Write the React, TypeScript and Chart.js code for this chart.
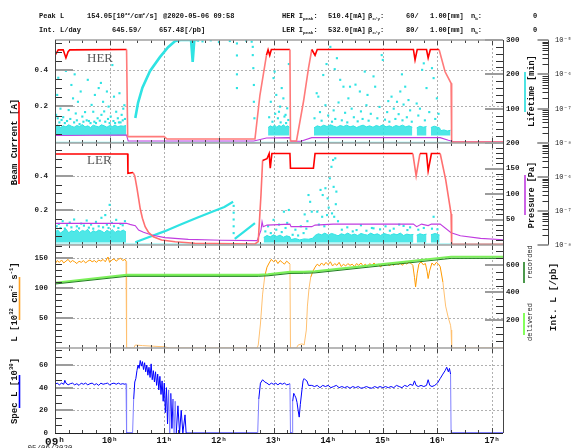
import React, { useEffect, useRef } from 'react';
import { Chart, registerables } from 'chart.js';

Chart.register(...registerables);

type Pt = [number, number | null];

// ---------------- axes / ticks ----------------
const hourTicks = [9, 10, 11, 12, 13, 14, 15, 16, 17];
const hourLabels = ['09ʰ', '10ʰ', '11ʰ', '12ʰ', '13ʰ', '14ʰ', '15ʰ', '16ʰ', '17ʰ'];
const xRange = [9, 17.2];

const herRange = [0, 0.564];
const lerRange = [0, 0.591];
const lumRange = [0, 172];
const specRange = [0, 75];
const lifeRange = [0, 300];
const presRange = [0, 200];
const intRange = [0, 742];
const logRange = [1e-8, 1e-5];

const currentTicks = [0.2, 0.4];
const lumTicks = [50, 100, 150];
const specTicks = [0, 20, 40, 60];
const lifeTicks = [100, 200, 300];
const presTicks = [50, 100, 150, 200];
const intTicks = [200, 400, 600];
const logTicksHER = [1e-5, 1e-6, 1e-7, 1e-8];
const logLabelsHER = ['10⁻⁵', '10⁻⁶', '10⁻⁷', '10⁻⁸'];
const logTicksLER = [1e-6, 1e-7, 1e-8];
const logLabelsLER = ['10⁻⁶', '10⁻⁷', '10⁻⁸'];

const currentMinor = [0.05, 0.1, 0.15, 0.25, 0.3, 0.35, 0.45, 0.5, 0.55];
const lumMinor = [10, 20, 30, 40, 60, 70, 80, 90, 110, 120, 130, 140, 160, 170];
const specMinor = [6.67, 13.33, 26.67, 33.33, 46.67, 53.33, 66.67, 73.33];
const lifeMinor = [20, 40, 60, 80, 120, 140, 160, 180, 220, 240, 260, 280];
const presMinor = [10, 20, 30, 40, 60, 70, 80, 90, 110, 120, 130, 140, 160, 170, 180, 190];
const intMinor = [50, 100, 150, 250, 300, 350, 450, 500, 550, 650, 700];

// ---------------- header text ----------------
const peakLumi = '154.05';
const peakTime = '@2020-05-06 09:58';
const intLumiRecorded = '645.59';
const intLumiDelivered = '657.48';
const herIpeak = '510.4[mA]';
const lerIpeak = '532.0[mA]';
const herBetaX = '60/';
const lerBetaX = '80/';
const betaY = '1.00[mm]';
const nBunches = ['0', '0'];
const dateLabel = '05/06/2020';

// ---------------- data (hour, value) ----------------
const herCurrent: Pt[] = [
  [9.0, 0.48], [9.06, 0.51], [9.15, 0.51], [9.2, 0.466], [9.24, 0.5], [9.27, 0.51], [10.31, 0.512],
  [10.33, 0.035], [11.0, 0.035], [11.05, 0.022], [12.66, 0.022], [12.75, 0.26], [12.87, 0.48], [12.9, 0.51],
  [12.93, 0.48], [12.96, 0.512], [13.3, 0.512], [13.31, 0.011], [13.42, 0.011], [13.55, 0.23], [13.64, 0.41],
  [13.7, 0.512], [13.76, 0.48], [13.8, 0.512], [15.56, 0.512], [15.59, 0.455], [15.63, 0.512], [15.8, 0.512],
  [15.83, 0.466], [15.87, 0.512], [16.03, 0.512], [16.14, 0.39], [16.25, 0.327], [16.26, 0.005], [17.2, 0.005],
];

const lerCurrent: Pt[] = [
  [9.0, 0.527], [10.33, 0.527], [10.335, 0.415], [10.43, 0.42], [10.46, 0.4], [10.5, 0.33], [10.53, 0.27],
  [10.56, 0.21], [10.6, 0.155], [10.65, 0.106], [10.71, 0.074], [10.8, 0.048], [10.95, 0.029], [11.2, 0.019],
  [11.56, 0.01], [12.66, 0.006], [12.72, 0.02], [12.77, 0.29], [12.8, 0.49], [12.88, 0.5], [12.92, 0.53],
  [12.94, 0.445], [12.97, 0.53], [13.3, 0.53], [13.31, 0.445], [13.73, 0.445], [13.76, 0.53], [15.55, 0.53],
  [15.61, 0.4], [15.68, 0.53], [15.8, 0.53], [15.83, 0.43], [15.89, 0.53], [16.05, 0.53], [16.15, 0.38],
  [16.25, 0.18], [16.26, 0.004], [17.2, 0.004],
];

const herPressure: Pt[] = [
  [9.0, 1.65e-8], [10.31, 1.71e-8], [10.34, 1.14e-8], [12.64, 1.14e-8], [12.87, 1.4e-8], [13.3, 1.43e-8],
  [13.32, 1.12e-8], [13.5, 1.12e-8], [13.7, 1.43e-8], [16.05, 1.43e-8], [16.2, 1.2e-8], [16.3, 1.09e-8],
  [17.2, 1.09e-8],
];

const lerPressure: Pt[] = [
  [9.0, 42.5], [10.31, 42.5], [10.37, 40.5], [10.47, 38], [10.53, 29.4], [10.62, 24.8], [10.77, 19.6],
  [11.01, 14.4], [11.44, 11.1], [12.05, 9.2], [12.7, 8.5], [12.77, 29], [12.79, 45.8], [12.81, 36],
  [12.88, 39], [13.3, 41], [13.32, 36], [13.7, 36], [13.76, 39], [14.09, 41], [15.56, 41], [15.62, 36],
  [15.71, 41], [15.83, 38], [15.89, 41], [16.05, 41], [16.25, 24], [16.42, 18], [16.79, 13], [17.2, 10.2],
];

const intDelivered: Pt[] = [
  [9.0, 470], [10.31, 527], [12.72, 527], [12.9, 531], [13.3, 548], [13.55, 549], [13.76, 552],
  [16.25, 657.5], [17.2, 657.5],
];
const intRecorded: Pt[] = [
  [9.0, 461], [10.31, 516], [12.72, 516], [12.9, 520], [13.3, 537], [13.55, 538], [13.76, 541],
  [16.25, 645.6], [17.2, 645.6],
];

const lumi: Pt[] = [
  [9.0, 140], [9.04, 146], [9.08, 143], [9.12, 147], [9.16, 142], [9.2, 145], [9.24, 148], [9.28, 143],
  [9.32, 146], [9.36, 144], [9.4, 141], [9.44, 145], [9.48, 143], [9.52, 146], [9.56, 142], [9.6, 145],
  [9.64, 147], [9.68, 144], [9.72, 146], [9.76, 143], [9.8, 147], [9.84, 145], [9.88, 148], [9.92, 144],
  [9.97, 152], [10.0, 143], [10.04, 147], [10.08, 149], [10.12, 145], [10.16, 148], [10.2, 150], [10.24, 146],
  [10.28, 148], [10.3, 145], [10.31, 0], [10.44, 0], [10.47, 5], [10.6, 4], [10.8, 3], [11.0, 2], [11.1, 0],
  [12.7, 0], [12.72, 5], [12.76, 40], [12.8, 90], [12.84, 120], [12.88, 135], [12.92, 142], [12.96, 148],
  [13.0, 144], [13.04, 147], [13.08, 141], [13.12, 146], [13.16, 143], [13.2, 140], [13.24, 145], [13.28, 142],
  [13.3, 140], [13.31, 0], [13.42, 0], [13.45, 5], [13.52, 7], [13.56, 5], [13.6, 30], [13.62, 70],
  [13.65, 100], [13.68, 118], [13.72, 128], [13.76, 135], [13.8, 140], [13.84, 137], [13.88, 142], [13.92, 138],
  [13.96, 143], [14.0, 139], [14.04, 144], [14.08, 137], [14.12, 141], [14.16, 138], [14.2, 143], [14.24, 136],
  [14.28, 140], [14.32, 137], [14.36, 141], [14.4, 138], [14.44, 140], [14.48, 136], [14.52, 141], [14.56, 138],
  [14.6, 142], [14.64, 137], [14.68, 140], [14.72, 136], [14.76, 141], [14.8, 138], [14.84, 142], [14.88, 137],
  [14.92, 140], [14.96, 135], [15.0, 141], [15.04, 138], [15.08, 142], [15.12, 137], [15.16, 141], [15.2, 138],
  [15.24, 143], [15.28, 139], [15.32, 142], [15.36, 138], [15.4, 143], [15.44, 140], [15.48, 144], [15.52, 141],
  [15.55, 138], [15.58, 118], [15.6, 102], [15.63, 125], [15.66, 140], [15.7, 144], [15.74, 139], [15.78, 141],
  [15.81, 128], [15.83, 116], [15.86, 130], [15.9, 142], [15.94, 138], [15.98, 143], [16.02, 140], [16.05, 136],
  [16.1, 110], [16.15, 70], [16.2, 50], [16.24, 38], [16.25, 30], [16.26, 0], [17.2, 0],
];

const specLumi: Pt[] = [
  [9.0, 43], [9.04, 44], [9.08, 42.5], [9.12, 44], [9.16, 43], [9.18, 46.5], [9.2, 44], [9.24, 42.5],
  [9.28, 43.5], [9.32, 44], [9.36, 42.5], [9.4, 43.5], [9.44, 42], [9.48, 44], [9.52, 43], [9.56, 44],
  [9.6, 42.5], [9.64, 43.5], [9.68, 44], [9.72, 42.5], [9.76, 43.5], [9.8, 42], [9.84, 44], [9.88, 43],
  [9.92, 43.5], [9.96, 44], [10.0, 42.5], [10.04, 43.5], [10.08, 44], [10.12, 43], [10.16, 44], [10.2, 43],
  [10.24, 43.5], [10.28, 43], [10.3, 43.5], [10.31, 0], [10.42, 0],
  [10.44, 30], [10.46, 45], [10.48, 48], [10.5, 55], [10.52, 60], [10.54, 57], [10.56, 64], [10.58, 59],
  [10.6, 63], [10.62, 56], [10.64, 62], [10.66, 54], [10.68, 60], [10.7, 51], [10.72, 58], [10.74, 49],
  [10.76, 61], [10.78, 47], [10.8, 55], [10.82, 45], [10.84, 54], [10.86, 42], [10.88, 52], [10.9, 38],
  [10.92, 50], [10.94, 34], [10.96, 46], [10.98, 28], [11.0, 44], [11.02, 18], [11.04, 40], [11.06, 8],
  [11.08, 38], [11.1, 0], [11.12, 35], [11.14, 4], [11.16, 30], [11.18, 0], [11.2, 28], [11.22, 0],
  [11.25, 24], [11.28, 0], [11.31, 20], [11.34, 0], [11.38, 16], [11.4, 0], [12.71, 0],
  [12.73, 30], [12.76, 44], [12.8, 47], [12.84, 45], [12.88, 44], [12.92, 42.5], [12.96, 44], [13.0, 43],
  [13.04, 44], [13.08, 42.5], [13.12, 44], [13.16, 43], [13.2, 44], [13.24, 42.5], [13.28, 43], [13.3, 43.5],
  [13.31, 0], [13.34, 0], [13.35, 28], [13.37, 35], [13.39, 33], [13.41, 31], [13.43, 27], [13.45, 20],
  [13.47, 14], [13.49, 25], [13.52, 38], [13.54, 46], [13.56, 48], [13.58, 47], [13.61, 46], [13.64, 42],
  [13.7, 42], [13.75, 41], [13.8, 42], [13.85, 40], [13.9, 42], [13.95, 41], [14.0, 42], [14.05, 40],
  [14.1, 41], [14.15, 42], [14.2, 40], [14.25, 41], [14.3, 40], [14.35, 41], [14.4, 39.5], [14.45, 41],
  [14.5, 40], [14.55, 41], [14.6, 39.5], [14.65, 40], [14.7, 41], [14.75, 40], [14.8, 39.5], [14.85, 41],
  [14.9, 40], [14.95, 41], [15.0, 40], [15.05, 41], [15.1, 40], [15.15, 41], [15.2, 40], [15.25, 42],
  [15.3, 41], [15.35, 40], [15.4, 42], [15.45, 41], [15.5, 43], [15.55, 42], [15.58, 46], [15.61, 42],
  [15.65, 41], [15.7, 42], [15.75, 41], [15.8, 42], [15.83, 47], [15.86, 42], [15.9, 41], [15.95, 42],
  [16.0, 44], [16.05, 48], [16.1, 52], [16.14, 55], [16.17, 58], [16.2, 54], [16.22, 57], [16.24, 52],
  [16.25, 0], [17.2, 0],
];

// HER lifetime [min]
const herLifeRise: Pt[] = [
  [10.47, 73], [10.52, 117], [10.6, 161], [10.74, 210], [10.92, 250], [11.07, 279], [11.2, 297], [11.3, 300],
  [11.49, 300], [11.52, 236], [11.55, 300], [11.6, 300],
];
const herLifeBand: Pt[] = [
  [9.0, 48], [9.05, 52], [9.1, 45], [9.15, 50], [9.2, 47], [9.25, 53], [9.3, 49], [9.35, 46], [9.4, 51],
  [9.45, 48], [9.5, 54], [9.55, 47], [9.6, 50], [9.65, 45], [9.7, 52], [9.75, 49], [9.8, 47], [9.85, 53],
  [9.9, 50], [9.95, 46], [10.0, 51], [10.05, 48], [10.1, 52], [10.15, 47], [10.2, 50], [10.25, 49], [10.3, 51],
  [10.31, null],
  [12.9, 45], [12.94, 50], [12.98, 47], [13.02, 52], [13.06, 46], [13.1, 51], [13.14, 48], [13.18, 53],
  [13.22, 47], [13.26, 50], [13.29, 46], [13.31, null],
  [13.74, 44], [13.8, 50], [13.86, 47], [13.92, 52], [13.98, 48], [14.04, 53], [14.1, 49], [14.16, 46],
  [14.22, 51], [14.28, 48], [14.34, 52], [14.4, 47], [14.46, 50], [14.52, 45], [14.58, 49], [14.64, 52],
  [14.7, 47], [14.76, 50], [14.82, 46], [14.88, 51], [14.94, 48], [15.0, 53], [15.06, 47], [15.12, 50],
  [15.18, 46], [15.24, 51], [15.3, 48], [15.36, 52], [15.42, 47], [15.48, 50], [15.54, 46], [15.57, null],
  [15.62, 44], [15.68, 49], [15.74, 46], [15.8, 48], [15.83, null],
  [15.88, 45], [15.94, 49], [16.0, 46], [16.04, 44], [16.06, 36], [16.12, 38], [16.18, 35], [16.24, 37],
  [16.26, null],
];
const herLifeBase: Pt[] = [[9.0, 2], [17.2, 2]];
const herLifePts: Pt[] = [
  [9.02, 82], [9.04, 140], [9.05, 72], [9.06, 190], [9.08, 60], [9.1, 100], [9.12, 67], [9.15, 75], [9.18, 58],
  [9.2, 210], [9.22, 64], [9.25, 96], [9.28, 70], [9.3, 169], [9.33, 130], [9.35, 60], [9.36, 200], [9.38, 86],
  [9.4, 66], [9.42, 120], [9.45, 55], [9.47, 150], [9.5, 77], [9.52, 62], [9.55, 90], [9.58, 66], [9.6, 184],
  [9.62, 64], [9.65, 58], [9.67, 111], [9.7, 91], [9.72, 62], [9.73, 140], [9.75, 58], [9.78, 72], [9.8, 160],
  [9.82, 65], [9.84, 175], [9.85, 82], [9.88, 120], [9.9, 92], [9.92, 62], [9.95, 150], [9.97, 70], [9.98, 106],
  [10.0, 58], [10.02, 77], [10.05, 227], [10.07, 64], [10.08, 135], [10.1, 58], [10.12, 91], [10.15, 72],
  [10.17, 60], [10.18, 145], [10.2, 60], [10.22, 82], [10.24, 66], [10.25, 100], [10.27, 110], [10.28, 70],
  [11.62, 298], [11.7, 296], [11.85, 299], [12.0, 294], [12.2, 297], [12.33, 290], [12.33, 255], [12.33, 200],
  [12.33, 160], [12.5, 298], [12.6, 295], [12.62, 280], [12.62, 256], [12.63, 218], [12.64, 169], [12.64, 120],
  [12.65, 72],
  [12.92, 75], [12.95, 120], [12.98, 62], [13.0, 189], [13.02, 208], [13.03, 85], [13.05, 140], [13.08, 72],
  [13.1, 91], [13.12, 106], [13.13, 60], [13.15, 160], [13.18, 130], [13.2, 77], [13.22, 82], [13.23, 58],
  [13.25, 101], [13.27, 67], [13.28, 230],
  [13.75, 72], [13.79, 145], [13.82, 135], [13.85, 90], [13.88, 65], [13.91, 198], [13.95, 110], [13.97, 230],
  [14.0, 80], [14.04, 280], [14.07, 62], [14.1, 95], [14.12, 215], [14.13, 70], [14.16, 247], [14.19, 118],
  [14.22, 184], [14.25, 66], [14.28, 164], [14.31, 88], [14.35, 60], [14.37, 130], [14.4, 164], [14.43, 100],
  [14.47, 75], [14.5, 170], [14.54, 63], [14.58, 150], [14.6, 92], [14.63, 70], [14.67, 208], [14.7, 110],
  [14.72, 140], [14.74, 65], [14.78, 85], [14.83, 194], [14.86, 164], [14.9, 72], [14.94, 105], [14.98, 256],
  [15.0, 242], [15.04, 68], [15.08, 90], [15.1, 122], [15.12, 62], [15.16, 135], [15.2, 100], [15.23, 70],
  [15.26, 120], [15.29, 84], [15.32, 150], [15.35, 200], [15.36, 66], [15.38, 112], [15.41, 164], [15.44, 75],
  [15.47, 125], [15.5, 95], [15.53, 62], [15.62, 115], [15.65, 80], [15.68, 100], [15.72, 213], [15.75, 232],
  [15.77, 66], [15.8, 160], [15.85, 90], [15.9, 218], [15.93, 189], [15.96, 70], [15.99, 130], [16.02, 85],
];

// LER lifetime [min]
const lerLifeRise: Pt[] = [
  [10.47, 8], [10.7, 22], [11.0, 40], [11.3, 60], [11.6, 80], [11.9, 99], [12.1, 112], [12.26, 127],
  [12.27, null], [12.29, 18], [12.45, 38], [12.66, 64],
];
const lerLifeBand: Pt[] = [
  [9.0, 38], [9.05, 44], [9.1, 35], [9.15, 41], [9.2, 47], [9.25, 36], [9.3, 42], [9.35, 39], [9.4, 45],
  [9.45, 37], [9.5, 43], [9.55, 40], [9.6, 46], [9.65, 35], [9.7, 42], [9.75, 38], [9.8, 44], [9.85, 41],
  [9.9, 36], [9.95, 43], [10.0, 39], [10.05, 45], [10.1, 37], [10.15, 42], [10.2, 40], [10.25, 44], [10.3, 38],
  [10.31, null],
  [12.82, 22], [12.88, 28], [12.94, 24], [13.0, 30], [13.06, 25], [13.12, 29], [13.18, 23], [13.24, 27],
  [13.3, 24], [13.32, 16], [13.4, 19], [13.48, 15], [13.56, 18], [13.64, 17], [13.72, 20],
  [13.76, 28], [13.82, 33], [13.88, 30], [13.94, 35], [14.0, 29], [14.06, 34], [14.12, 31], [14.18, 27],
  [14.24, 33], [14.3, 30], [14.36, 35], [14.42, 29], [14.48, 32], [14.54, 28], [14.6, 34], [14.66, 31],
  [14.72, 29], [14.78, 35], [14.84, 30], [14.9, 33], [14.96, 28], [15.02, 34], [15.08, 31], [15.14, 29],
  [15.2, 33], [15.26, 30], [15.32, 35], [15.38, 28], [15.44, 32], [15.5, 30], [15.56, 31], [15.58, null],
  [15.62, 29], [15.68, 33], [15.74, 30], [15.8, 32], [15.83, null],
  [15.88, 30], [15.96, 34], [16.04, 29], [16.06, null],
];
const lerLifeBase: Pt[] = [[9.0, 3], [17.2, 3]];
const lerLifePts: Pt[] = [
  [9.03, 55], [9.07, 62], [9.1, 50], [9.14, 70], [9.18, 48], [9.22, 58], [9.27, 66], [9.3, 52], [9.35, 75],
  [9.4, 55], [9.44, 49], [9.48, 63], [9.53, 57], [9.58, 72], [9.62, 51], [9.66, 60], [9.7, 48], [9.75, 68],
  [9.8, 55], [9.85, 80], [9.88, 52], [9.92, 88], [9.95, 60], [9.98, 50], [10.0, 118], [10.04, 65], [10.08, 55],
  [10.12, 74], [10.16, 50], [10.2, 62], [10.24, 58], [10.28, 70],
  [12.27, 115], [12.27, 95], [12.27, 75], [12.27, 55], [12.27, 35],
  [12.85, 40], [12.9, 55], [12.95, 35], [13.0, 74], [13.05, 45], [13.1, 60], [13.15, 38], [13.19, 98],
  [13.22, 50], [13.25, 65], [13.28, 103],
  [13.35, 30], [13.4, 45], [13.45, 28], [13.5, 55], [13.55, 35], [13.57, 90], [13.6, 48], [13.62, 70],
  [13.64, 147], [13.67, 127], [13.7, 98],
  [13.8, 98], [13.83, 60], [13.86, 162], [13.89, 83], [13.9, 147], [13.93, 55], [13.95, 167], [13.98, 88],
  [13.99, 137], [14.01, 110], [14.03, 196], [14.06, 230], [14.07, 93], [14.09, 250], [14.1, 171], [14.11, 83],
  [14.13, 255], [14.14, 120], [14.15, 157], [14.18, 70],
  [14.25, 45], [14.35, 52], [14.45, 40], [14.52, 44], [14.6, 58], [14.7, 42], [14.8, 50], [14.83, 49],
  [14.95, 46], [15.05, 55], [15.13, 42], [15.2, 48], [15.3, 60], [15.38, 56], [15.45, 44], [15.5, 52],
  [15.65, 45], [15.75, 50], [15.9, 48], [15.93, 83], [16.0, 46],
];

// ---------------- helpers ----------------
const MONO = '"Liberation Mono", "DejaVu Sans Mono", monospace';
const xy = (a: Pt[]) => a.map(([x, y]) => ({ x, y }));

type Seg = { t: string; k?: 'sup' | 'sub' };

function richWidth(ctx: CanvasRenderingContext2D, segs: Seg[], size: number, weight: string) {
  let w = 0;
  for (const s of segs) {
    ctx.font = `${weight} ${s.k ? size * 0.62 : size}px ${MONO}`;
    w += ctx.measureText(s.t).width;
  }
  return w;
}

function drawRich(ctx: CanvasRenderingContext2D, x: number, y: number, segs: Seg[], o: any) {
  const size = o.size;
  const weight = o.weight || 'normal';
  ctx.save();
  ctx.translate(x, y);
  if (o.rot) ctx.rotate(o.rot);
  ctx.fillStyle = o.color || '#111';
  ctx.textAlign = 'left';
  ctx.textBaseline = 'alphabetic';
  let cx = o.align === 'center' ? -richWidth(ctx, segs, size, weight) / 2 : 0;
  for (const s of segs) {
    const sz = s.k ? size * 0.62 : size;
    ctx.font = `${weight} ${sz}px ${MONO}`;
    const dy = s.k === 'sup' ? -size * 0.42 : s.k === 'sub' ? size * 0.3 : 0;
    ctx.fillText(s.t, cx, dy);
    cx += ctx.measureText(s.t).width;
  }
  ctx.restore();
}

function hline(ctx: CanvasRenderingContext2D, x0: number, x1: number, y: number) {
  ctx.beginPath();
  ctx.moveTo(x0, y);
  ctx.lineTo(x1, y);
  ctx.stroke();
}
function vline(ctx: CanvasRenderingContext2D, x: number, y0: number, y1: number) {
  ctx.beginPath();
  ctx.moveTo(x, y0);
  ctx.lineTo(x, y1);
  ctx.stroke();
}

const leftMajors: [string, number[]][] = [
  ['yHER', currentTicks], ['yLER', currentTicks], ['yLum', lumTicks], ['ySpec', [20, 40, 60]],
];
const leftMinors: [string, number[]][] = [
  ['yHER', currentMinor], ['yLER', currentMinor], ['yLum', lumMinor], ['ySpec', specMinor],
];
const rightMajors: [string, number[]][] = [['yLt', lifeTicks], ['yP', presTicks], ['yInt', intTicks]];
const rightMinors: [string, number[]][] = [['yLt', lifeMinor], ['yP', presMinor], ['yInt', intMinor]];

const decorPlugin = {
  id: 'decor',
  beforeDatasetsDraw(chart: any) {
    const { ctx, chartArea: a, scales: S } = chart;
    ctx.save();
    ctx.strokeStyle = '#b0b0b0';
    ctx.lineWidth = 1;
    ctx.setLineDash([2, 2]);
    for (const h of hourTicks.slice(1)) {
      const px = Math.round(S.x.getPixelForValue(h)) + 0.5;
      vline(ctx, px, a.top, a.bottom);
    }
    for (const [id, vals] of leftMajors) {
      for (const v of vals) {
        const py = Math.round(S[id].getPixelForValue(v)) + 0.5;
        hline(ctx, a.left + 18, a.right, py);
      }
    }
    ctx.restore();
  },
  beforeDatasetDraw(chart: any, args: any) {
    const { ctx, chartArea: a } = chart;
    const ys = args.meta.yScale;
    ctx.save();
    ctx.beginPath();
    ctx.rect(a.left, ys.top, a.right - a.left, ys.bottom - ys.top);
    ctx.clip();
  },
  afterDatasetDraw(chart: any) {
    chart.ctx.restore();
  },
  afterDatasetsDraw(chart: any) {
    const { ctx, chartArea: a, scales: S } = chart;
    const panels = ['yHER', 'yLER', 'yLum', 'ySpec'].map((id) => S[id]);
    ctx.save();
    ctx.setLineDash([]);

    // x ticks on every panel edge
    ctx.strokeStyle = '#444';
    ctx.lineWidth = 1;
    for (let q = 9.25; q < 17.2; q += 0.25) {
      const px = Math.round(S.x.getPixelForValue(q)) + 0.5;
      const len = Math.abs(q - Math.round(q)) < 1e-6 ? 5 : 3;
      for (const p of panels) {
        vline(ctx, px, p.bottom, p.bottom - len);
        vline(ctx, px, p.top, p.top + len);
      }
    }

    // major ticks (grey, thick)
    ctx.strokeStyle = '#9c9c9c';
    ctx.lineWidth = 2;
    for (const [id, vals] of leftMajors) {
      for (const v of vals) hline(ctx, a.left, a.left + 18, Math.round(S[id].getPixelForValue(v)));
    }
    for (const [id, vals] of rightMajors) {
      for (const v of vals) hline(ctx, a.right - 18, a.right, Math.round(S[id].getPixelForValue(v)));
    }
    // minor ticks
    ctx.strokeStyle = '#333';
    ctx.lineWidth = 1;
    for (const [id, vals] of leftMinors) {
      for (const v of vals) hline(ctx, a.left, a.left + 7, Math.round(S[id].getPixelForValue(v)) + 0.5);
    }
    for (const [id, vals] of rightMinors) {
      for (const v of vals) hline(ctx, a.right - 7, a.right, Math.round(S[id].getPixelForValue(v)) + 0.5);
    }

    // panel separators
    ctx.strokeStyle = '#a0a0a0';
    ctx.lineWidth = 1.6;
    for (const p of panels) hline(ctx, a.left, a.right, p.top);
    // frame
    ctx.strokeStyle = '#444';
    ctx.lineWidth = 1;
    vline(ctx, a.left + 0.5, a.top, a.bottom);
    vline(ctx, a.right + 0.5, a.top, a.bottom);
    ctx.strokeStyle = '#222';
    hline(ctx, a.left, a.right, a.bottom + 0.5);

    // log axis
    const lh = S.yLogH;
    const ll = S.yLogL;
    const lx = Math.round(lh.left) + 0.5;
    ctx.strokeStyle = '#444';
    vline(ctx, lx, lh.top, ll.bottom);
    for (const sc of [lh, ll]) {
      for (let e = -8; e < -5; e++) {
        for (let m = 1; m <= 9; m++) {
          const v = m * Math.pow(10, e);
          const py = Math.round(sc.getPixelForValue(v)) + 0.5;
          if (m === 1) {
            ctx.strokeStyle = '#9c9c9c';
            ctx.lineWidth = 2;
            hline(ctx, lx - 11, lx, py - 0.5);
          } else {
            ctx.strokeStyle = '#333';
            ctx.lineWidth = 1;
            hline(ctx, lx - 6, lx, py);
          }
        }
      }
      ctx.strokeStyle = '#9c9c9c';
      ctx.lineWidth = 2;
      hline(ctx, lx - 11, lx, Math.round(sc.top));
    }

    // header
    const hs = { size: 7, weight: 'bold', color: '#111' };
    drawRich(ctx, 39, 18, [{ t: 'Peak L' }], hs);
    drawRich(ctx, 87, 18, [{ t: peakLumi + '[10' }, { t: '32', k: 'sup' }, { t: '/cm' }, { t: '2', k: 'sup' }, { t: '/s]' }], hs);
    drawRich(ctx, 163, 18, [{ t: peakTime }], hs);
    drawRich(ctx, 39, 31.5, [{ t: 'Int. L/day' }], hs);
    drawRich(ctx, 112, 31.5, [{ t: intLumiRecorded + '/' }], hs);
    drawRich(ctx, 159, 31.5, [{ t: intLumiDelivered + '[/pb]' }], hs);
    const rows: [string, string, string, number][] = [
      ['HER', herIpeak, herBetaX, 18],
      ['LER', lerIpeak, lerBetaX, 31.5],
    ];
    rows.forEach(([ring, ip, bx, y], i) => {
      drawRich(ctx, 282, y, [{ t: ring + ' I' }, { t: 'peak', k: 'sub' }, { t: ':' }], hs);
      drawRich(ctx, 328, y, [{ t: ip }], hs);
      drawRich(ctx, 368, y, [{ t: 'β' }, { t: 'x/y', k: 'sub' }, { t: ':' }], hs);
      drawRich(ctx, 406, y, [{ t: bx }], hs);
      drawRich(ctx, 430, y, [{ t: betaY }], hs);
      drawRich(ctx, 471, y, [{ t: 'n' }, { t: 'b', k: 'sub' }, { t: ':' }], hs);
      drawRich(ctx, 533, y, [{ t: nBunches[i] }], hs);
    });

    // axis titles
    const R = -Math.PI / 2;
    const ts = { size: 9, weight: 'bold', color: '#111', align: 'center', rot: R };
    drawRich(ctx, 17, 142, [{ t: 'Beam Current [A]' }], ts);
    drawRich(ctx, 17, 302, [{ t: 'L [10' }, { t: '32', k: 'sup' }, { t: ' cm' }, { t: '-2', k: 'sup' }, { t: ' s' }, { t: '-1', k: 'sup' }, { t: ']' }], ts);
    drawRich(ctx, 17, 391, [{ t: 'Spec L [10' }, { t: '30', k: 'sup' }, { t: ']' }], ts);
    const rs = { size: 8.5, weight: 'bold', color: '#111', align: 'center', rot: R };
    drawRich(ctx, 534, 91, [{ t: 'Lifetime [min]' }], rs);
    drawRich(ctx, 534, 195, [{ t: 'Pressure [Pa]' }], rs);
    drawRich(ctx, 556, 297, [{ t: 'Int. L [/pb]' }], { ...rs, size: 9.5 });
    const ss = { size: 7, weight: 'normal', color: '#222', align: 'center', rot: R };
    drawRich(ctx, 532, 262, [{ t: 'recorded' }], ss);
    drawRich(ctx, 532, 322, [{ t: 'delivered' }], ss);

    const bars: [string, number, number, number][] = [
      ['#ff0000', 19, 102, 184], ['#ffa020', 19.5, 277, 320], ['#0000ff', 19.5, 375, 408],
      ['#22dddd', 525, 72, 112], ['#c03ce0', 525, 175, 215], ['#1f7f1f', 524, 262, 283], ['#66ff33', 524, 313, 335],
    ];
    ctx.lineWidth = 1.6;
    for (const [c, x, y0, y1] of bars) {
      ctx.strokeStyle = c;
      vline(ctx, x, y0, y1);
    }

    // ring labels
    ctx.fillStyle = '#555';
    ctx.font = '13px "Liberation Serif", "DejaVu Serif", serif';
    ctx.textAlign = 'left';
    ctx.textBaseline = 'alphabetic';
    ctx.fillText('HER', 87, 62);
    ctx.fillText('LER', 87, 164);

    // date
    ctx.fillStyle = '#222';
    ctx.font = `7.5px ${MONO}`;
    ctx.textAlign = 'center';
    ctx.fillText(dateLabel, 50, 450);
    ctx.restore();
  },
};

const tickFont = { family: MONO, size: 7.5, weight: 'bold' as const };

function leftScale(range: number[], weight: number, order: number, ticks: number[], fmt: (v: number) => string) {
  return {
    type: 'linear', position: 'left', stack: 'L', stackWeight: weight, weight: order,
    min: range[0], max: range[1],
    grid: { display: false, drawTicks: false }, border: { display: false },
    afterBuildTicks: (s: any) => { s.ticks = ticks.map((value) => ({ value })); },
    afterFit: (s: any) => { s.width = 55; },
    ticks: { autoSkip: false, padding: 7, color: '#222', font: tickFont, callback: (v: any) => fmt(Number(v)) },
  };
}
function rightScale(stack: string, range: number[], weight: number, order: number, ticks: number[] | null, labels: ((v: number, i: number) => string) | null, width: number, log = false) {
  if (!ticks) {
    return { type: 'linear', display: false, position: 'right', stack, stackWeight: weight, weight: order, min: range[0], max: range[1] };
  }
  return {
    type: log ? 'logarithmic' : 'linear', position: 'right', stack, stackWeight: weight, weight: order,
    min: range[0], max: range[1],
    grid: { display: false, drawTicks: false }, border: { display: false },
    afterBuildTicks: (s: any) => { s.ticks = ticks.map((value) => ({ value })); },
    afterFit: (s: any) => { s.width = width; },
    ticks: {
      autoSkip: false, padding: log ? 7 : 3, color: '#222',
      font: log ? { family: MONO, size: 7 } : tickFont,
      callback: (v: any, i: number) => (labels as any)(Number(v), i),
    },
  };
}

const W = [103, 102, 103, 85];

export default function App() {
  const ref = useRef<HTMLCanvasElement>(null);
  useEffect(() => {
    const canvas = ref.current as HTMLCanvasElement;
    const line = (data: Pt[], yAxisID: string, color: string, width: number, extra: any = {}) => ({
      type: 'line', data: xy(data), yAxisID, xAxisID: 'x', borderColor: color, backgroundColor: color,
      borderWidth: width, pointRadius: 0, tension: 0, fill: false, spanGaps: false, ...extra,
    });
    const dots = (data: Pt[], yAxisID: string, color: string) => ({
      type: 'line', data: xy(data), yAxisID, xAxisID: 'x', showLine: false, pointRadius: 1.5, pointStyle: 'rect',
      pointBackgroundColor: color, pointBorderWidth: 0, borderColor: color, backgroundColor: color,
    });
    const cyan = '#2fe3e3';
    const twoTone = (th: number, strong: string, pale: string) => ({
      borderColor: (c: any) => (c.p0.parsed.y > th && c.p1.parsed.y > th ? strong : pale),
    });

    const datasets: any[] = [
      line(herCurrent, 'yHER', '#ff0000', 1.6, { segment: twoTone(0.45, '#ff0000', '#ff7a7a') }),
      line(lerCurrent, 'yLER', '#ff0000', 1.6, { segment: twoTone(0.4, '#ff0000', '#ff7070') }),
      line(herPressure, 'yLogH', '#c03ce0', 1.1),
      line(lerPressure, 'yP', '#c03ce0', 1.1),
      line(intRecorded, 'yInt', '#1f7f1f', 1),
      line(intDelivered, 'yInt', '#7cf05a', 2.2),
      line(lumi, 'yLum', '#ff9a00', 1, { segment: twoTone(100, '#ff9a00', '#ffc070') }),
      line(specLumi, 'ySpec', '#0000ff', 1, {
        segment: { borderColor: (c: any) => (Math.abs(c.p0.parsed.y - c.p1.parsed.y) > 25 && (c.p0.parsed.y < 1 || c.p1.parsed.y < 1) ? '#8080ff' : '#0000ff') },
      }),
      line(herLifeRise, 'yLt', cyan, 2.6),
      line(lerLifeRise, 'yLtL', cyan, 2.2),
      dots(herLifePts, 'yLt', cyan),
      dots(lerLifePts, 'yLtL', cyan),
      line(herLifeBand, 'yLt', cyan, 1, { fill: { value: 22 }, backgroundColor: 'rgba(47,227,227,0.85)' }),
      line(lerLifeBand, 'yLtL', cyan, 1, { fill: { value: 7 }, backgroundColor: 'rgba(47,227,227,0.85)' }),
      line(herLifeBase, 'yLt', '#7ff0f0', 1.2),
      line(lerLifeBase, 'yLtL', '#7ff0f0', 1.2),
    ];

    const logFmt = (labels: string[]) => (_v: number, i: number) => labels[i] || '';

    const chart = new Chart(canvas, {
      type: 'line',
      data: { datasets },
      options: {
        animation: false,
        responsive: false,
        events: [],
        layout: { padding: { top: 40, left: 0, right: 0, bottom: 0 } },
        plugins: { legend: { display: false }, tooltip: { enabled: false } },
        scales: {
          x: {
            type: 'linear', position: 'bottom', min: xRange[0], max: xRange[1],
            grid: { display: false, drawTicks: false }, border: { display: false },
            afterBuildTicks: (s: any) => { s.ticks = hourTicks.map((value) => ({ value })); },
            afterFit: (s: any) => { s.height = 15; },
            ticks: {
              autoSkip: false, maxRotation: 0, padding: 3, color: '#111',
              font: (c: any) => ({ family: MONO, size: c.index === 0 ? 11 : 8.5, weight: 'bold' }),
              callback: (_v: any, i: number) => hourLabels[i],
            },
          },
          yHER: leftScale(herRange, W[0], 4, currentTicks, (v) => v.toFixed(1)),
          yLER: leftScale(lerRange, W[1], 3, currentTicks, (v) => v.toFixed(1)),
          yLum: leftScale(lumRange, W[2], 2, lumTicks, (v) => String(v)),
          ySpec: leftScale(specRange, W[3], 1, specTicks, (v) => String(v)),
          yLt: rightScale('R1', lifeRange, W[0], 1, lifeTicks, (v) => String(v), 45),
          yP: rightScale('R1', presRange, W[1], 2, presTicks, (v) => String(v), 45),
          yInt: rightScale('R1', intRange, W[2], 3, intTicks, (v) => String(v), 45),
          yR1d: rightScale('R1', [0, 1], W[3], 4, null, null, 0),
          yLogH: rightScale('R2', logRange, W[0], 5, logTicksHER, logFmt(logLabelsHER), 28, true),
          yLogL: rightScale('R2', logRange, W[1], 6, logTicksLER, logFmt(logLabelsLER), 28, true),
          yR2a: rightScale('R2', [0, 1], W[2], 7, null, null, 0),
          yR2b: rightScale('R2', [0, 1], W[3], 8, null, null, 0),
          yH1: rightScale('H', [0, 1], W[0], 9, null, null, 0),
          yLtL: rightScale('H', lifeRange, W[1], 10, null, null, 0),
          yH3: rightScale('H', [0, 1], W[2], 11, null, null, 0),
          yH4: rightScale('H', [0, 1], W[3], 12, null, null, 0),
        } as any,
      },
      plugins: [decorPlugin as any],
    } as any);
    return () => chart.destroy();
  }, []);

  return (
    <div style={{ position: 'absolute', left: 0, top: 0, width: 576, height: 448, background: '#fff' }}>
      <canvas ref={ref} width={576} height={448} style={{ display: 'block', width: 576, height: 448 }} />
    </div>
  );
}
